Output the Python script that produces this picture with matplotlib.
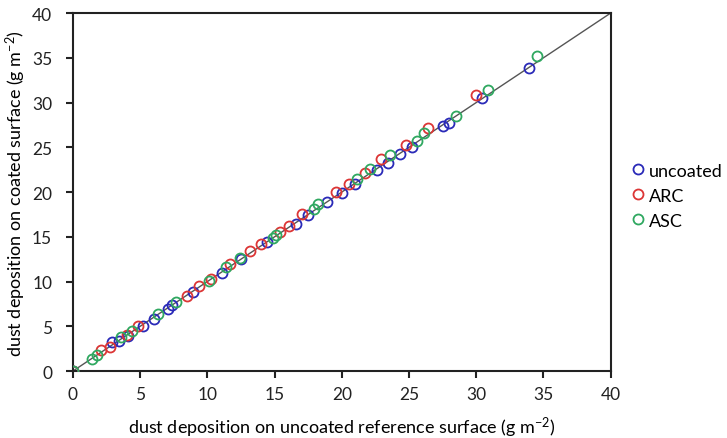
import matplotlib
matplotlib.use("Agg")
import matplotlib.pyplot as plt

plt.rcParams['font.family'] = ['Lato', 'DejaVu Sans']
plt.rcParams['mathtext.fontset'] = 'custom'
plt.rcParams['mathtext.rm'] = 'Lato'
plt.rcParams['mathtext.it'] = 'Lato:italic'

# data (reference surface deposition, coated surface deposition)
unc_x = [0, 2.9, 3.4, 4.1, 5.2, 6.0, 7.1, 7.4, 8.9, 11.1, 12.5, 14.4, 16.6, 17.5,
         18.9, 20.0, 21.0, 22.6, 23.4, 24.3, 25.2, 27.5, 28.0, 30.4, 33.9]
unc_y = [0, 3.2, 3.4, 3.9, 5.0, 5.8, 6.9, 7.4, 8.8, 11.0, 12.5, 14.4, 16.4, 17.4,
         18.85, 19.9, 20.9, 22.5, 23.2, 24.2, 25.0, 27.4, 27.7, 30.5, 33.9]
arc_x = [0, 2.1, 2.75, 4.0, 4.85, 8.45, 9.4, 10.3, 11.7, 13.2, 14.0, 15.4, 16.1, 17.0,
         19.6, 20.5, 21.7, 22.9, 24.8, 26.4, 30.0]
arc_y = [0, 2.3, 2.65, 4.0, 5.06, 8.4, 9.5, 10.3, 11.96, 13.4, 14.2, 15.5, 16.2, 17.5,
         20.0, 20.9, 22.1, 23.7, 25.2, 27.1, 30.8]
asc_x = [0, 1.4, 1.76, 3.6, 4.4, 6.3, 7.7, 10.1, 11.4, 12.4, 14.9, 15.1, 17.9, 18.2,
         21.1, 22.1, 23.6, 25.6, 26.1, 28.5, 30.9, 34.5]
asc_y = [0, 1.3, 1.8, 3.8, 4.5, 6.4, 7.7, 10.1, 11.6, 12.6, 14.9, 15.2, 18.1, 18.7,
         21.5, 22.6, 24.1, 25.7, 26.6, 28.5, 31.4, 35.2]
ticks = [0, 5, 10, 15, 20, 25, 30, 35, 40]

fig = plt.figure(figsize=(7.27, 4.39), dpi=100)
ax = fig.add_axes([0.1004, 0.1526, 0.7396, 0.8154])

ax.plot([0, 40], [0, 40], color='#555555', lw=1.0, zorder=1)
mk = dict(marker='o', linestyle='none', markersize=7.2, markerfacecolor='none',
          markeredgewidth=1.3, zorder=3)
ax.plot(unc_x, unc_y, markeredgecolor='#2a2ab8', label='uncoated', **mk)
ax.plot(arc_x, arc_y, markeredgecolor='#dc3535', label='ARC', **mk)
ax.plot(asc_x, asc_y, markeredgecolor='#2fa860', label='ASC', **mk)

ax.set_xlim(0, 40)
ax.set_ylim(0, 40)
ax.set_xticks(ticks)
ax.set_yticks(ticks)
ax.set_xticklabels([str(t) for t in ticks])
ax.set_yticklabels([str(t) for t in ticks])
for s in ax.spines.values():
    s.set_linewidth(1.5)
    s.set_color('#222222')
ax.tick_params(direction='out', length=5, width=1.5, labelsize=12.5,
               colors='#222222', pad=6)
ax.tick_params(axis='y', pad=10)
ax.set_xlabel('dust deposition on uncoated reference surface (g m$^{-2}$)',
              fontsize=13, labelpad=9)
ax.set_ylabel('dust deposition on coated surface (g m$^{-2}$)', fontsize=13,
              labelpad=3)

leg = ax.legend(loc='center left', bbox_to_anchor=(1.02, 0.49), frameon=False,
                fontsize=13, handletextpad=0.1, labelspacing=0.5,
                handlelength=1.0, borderaxespad=0)

fig.savefig('out.png', dpi=100)
